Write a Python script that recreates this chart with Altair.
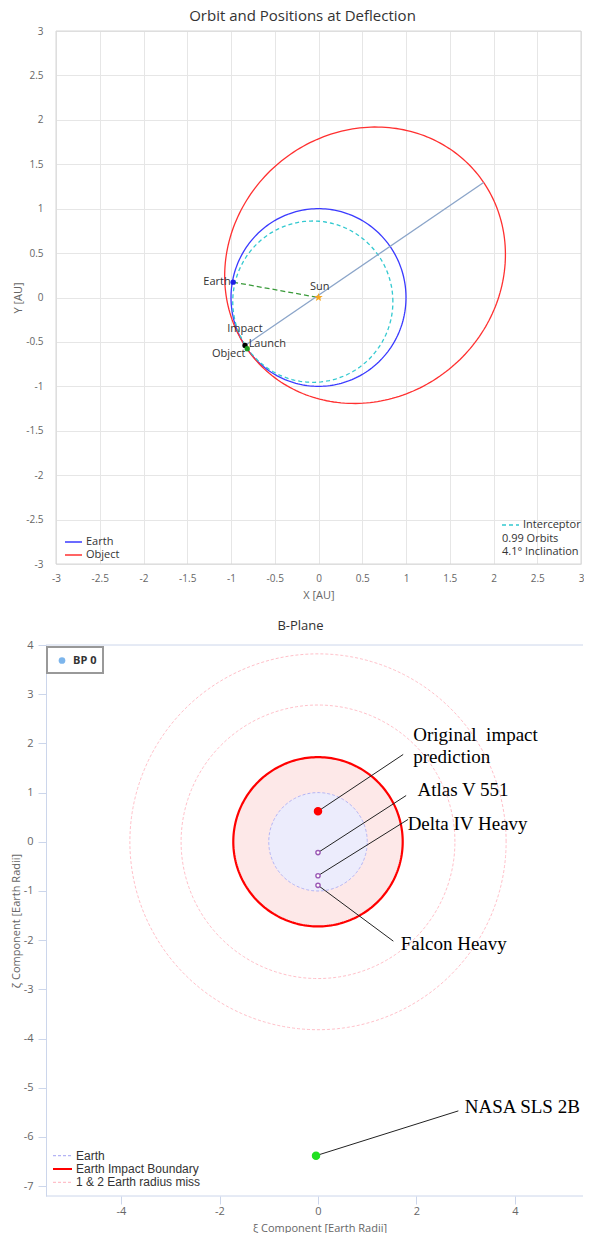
import altair as alt
import numpy as np
import pandas as pd

# ---------------- Orbit chart data (AU) ----------------
ORBIT_NAMES = ["Earth", "Object"]
ORBIT_CX = [0.0, 0.532]
ORBIT_CY = [0.0, 0.363]
ORBIT_A = [1.0, 1.645]
ORBIT_B = [1.0, 1.513]
ORBIT_ROT = [0.0, 34.3]

INTERCEPTOR_CX = -0.065
INTERCEPTOR_CY = -0.047
INTERCEPTOR_A = 0.915
INTERCEPTOR_B = 0.908

BODY_NAMES = ["Earth", "Sun", "Launch", "Object"]
BODY_X = [-0.976, 0.0, -0.84, -0.815]
BODY_Y = [0.173, 0.0, -0.54, -0.577]

LABEL_TEXT = ["Earth", "Sun", "Impact", "Launch", "Object"]
LABEL_X = [-1.16, 0.015, -0.841, -0.585, -1.026]
LABEL_Y = [0.178, 0.118, -0.354, -0.52, -0.632]

EARTH_SUN_X = [-0.976, 0.0]
EARTH_SUN_Y = [0.173, 0.0]
APSIDES_X = [-0.84, 1.887]
APSIDES_Y = [-0.54, 1.295]

TOP_LEGEND = ["Earth", "Object"]
INFO_TEXT = ["Interceptor", "0.99 Orbits", "4.1\u00b0 Inclination"]

# ---------------- B-plane data (Earth radii) ----------------
EARTH_RADIUS = 1.0
IMPACT_RADIUS = 1.72
MISS_RADII = [2.78, 3.82]
BP_LEGEND = ["Earth", "Earth Impact Boundary", "1 & 2 Earth radius miss"]

BP_NAMES = ["Original impact prediction", "Atlas V 551", "Delta IV Heavy", "Falcon Heavy", "NASA SLS 2B"]
BP_XI = [0.0, 0.0, 0.0, 0.0, -0.04]
BP_ZETA = [0.62, -0.22, -0.69, -0.885, -6.38]

CALLOUT_END_X = [1.73, 1.79, 1.83, 1.53, 2.85]
CALLOUT_END_Y = [1.775, 0.94, 0.455, -2.02, -5.47]

CALLOUT_TEXT = ["Original\u00a0 impact", "prediction", "Atlas V 551", "Delta IV Heavy", "Falcon Heavy", "NASA SLS 2B"]
CALLOUT_TEXT_X = [1.935, 1.935, 2.02, 1.82, 1.68, 2.98]
CALLOUT_TEXT_Y = [2.18, 1.72, 1.06, 0.365, -2.08, -5.40]

STAR_PATH = ("M0,-1L0.24,-0.33L0.95,-0.31L0.39,0.12L0.59,0.81L0,0.4L-0.59,0.81L-0.39,0.12"
             "L-0.95,-0.31L-0.24,-0.33Z")


def ellipse_df(cx, cy, a, b, rot_deg, n=241, ring=0):
    t = np.linspace(0.0, 2.0 * np.pi, n)
    r = np.deg2rad(rot_deg)
    xs = cx + a * np.cos(t) * np.cos(r) - b * np.sin(t) * np.sin(r)
    ys = cy + a * np.cos(t) * np.sin(r) + b * np.sin(t) * np.cos(r)
    return pd.DataFrame({"x": xs, "y": ys, "k": np.arange(n), "ring": ring})


def disk_df(r, n=181):
    t = np.linspace(0.0, np.pi, n)
    return pd.DataFrame({"x": r * np.cos(t), "y": r * np.sin(t), "y2": -r * np.sin(t)})


ONE = pd.DataFrame({"a": [0]})
FONT = "Open Sans"
GREY = "#666666"
DARK = "#333333"
PLAIN = "'' + datum.value"

# ======================= TOP CHART =======================
TW, TH = 525, 533
half_ticks = [v * 0.5 for v in range(-6, 7)]
top_scale = alt.Scale(domain=[-3, 3], nice=False, zero=False)

XT = alt.X("x:Q", scale=top_scale, axis=alt.Axis(
    values=half_ticks, title="X [AU]", grid=True, gridColor="#e6e6e6", domain=False, ticks=False,
    labelFlush=False, labelExpr=PLAIN, labelFont=FONT, labelFontSize=10, labelColor=GREY, labelPadding=9,
    titleFont=FONT, titleFontSize=11, titleFontWeight="normal", titleColor=GREY, titlePadding=6))
YT = alt.Y("y:Q", scale=top_scale, axis=alt.Axis(
    values=half_ticks, title="Y [AU]", grid=True, gridColor="#e6e6e6", domain=False, ticks=False,
    labelFlush=False, labelExpr=PLAIN, labelFont=FONT, labelFontSize=10, labelColor=GREY, labelPadding=13,
    titleFont=FONT, titleFontSize=11, titleFontWeight="normal", titleColor=GREY, titlePadding=2))

top_layers = []
# plot border
top_layers.append(alt.Chart(ONE).mark_rect(fill="transparent", stroke="#d6d6d6", strokeWidth=1).encode(
    x=alt.value(0), x2=alt.value(TW), y=alt.value(0), y2=alt.value(TH)))

orbit_colors = ["#3a3aff", "#ff3030"]
for i in range(len(ORBIT_NAMES)):
    d = ellipse_df(ORBIT_CX[i], ORBIT_CY[i], ORBIT_A[i], ORBIT_B[i], ORBIT_ROT[i])
    top_layers.append(alt.Chart(d).mark_line(strokeWidth=1.3, color=orbit_colors[i]).encode(
        x=XT, y=YT, order="k:Q"))

d_int = ellipse_df(INTERCEPTOR_CX, INTERCEPTOR_CY, INTERCEPTOR_A, INTERCEPTOR_B, 0.0)
top_layers.append(alt.Chart(d_int).mark_line(strokeWidth=1.3, color="#33c9d0", strokeDash=[4, 3]).encode(
    x=XT, y=YT, order="k:Q"))

top_layers.append(alt.Chart(pd.DataFrame({"x": EARTH_SUN_X, "y": EARTH_SUN_Y})).mark_line(
    color="#3a9a3a", strokeDash=[5, 3], strokeWidth=1.3).encode(x=XT, y=YT))
top_layers.append(alt.Chart(pd.DataFrame({"x": APSIDES_X, "y": APSIDES_Y})).mark_line(
    color="#8ba5c9", strokeWidth=1.3).encode(x=XT, y=YT))

body_style = [("#1f1fe6", "circle", 28), ("#f5a623", STAR_PATH, 80), ("#000000", "circle", 28),
              ("#1f9a1f", "circle", 28)]
for i, (col, shp, sz) in enumerate(body_style):
    d = pd.DataFrame({"x": [BODY_X[i]], "y": [BODY_Y[i]]})
    top_layers.append(alt.Chart(d).mark_point(filled=True, opacity=1, color=col, shape=shp, size=sz).encode(
        x=XT, y=YT))

top_layers.append(alt.Chart(pd.DataFrame({"t": LABEL_TEXT, "x": LABEL_X, "y": LABEL_Y})).mark_text(
    font=FONT, fontSize=11, color=DARK, baseline="middle", align="center").encode(
    x=XT, y=YT, text="t:N"))

# legends drawn as plain marks (pixel positions inside the plot area)
for i, (name, col) in enumerate(zip(TOP_LEGEND, orbit_colors)):
    yy = 511 + 13 * i
    top_layers.append(alt.Chart(ONE).mark_rule(color=col, strokeWidth=1.5).encode(
        x=alt.value(9), x2=alt.value(26), y=alt.value(yy)))
    top_layers.append(alt.Chart(ONE).mark_text(font=FONT, fontSize=11, color=DARK, align="left",
                                               baseline="middle", text=name).encode(
        x=alt.value(30), y=alt.value(yy)))
top_layers.append(alt.Chart(ONE).mark_rule(color="#33c9d0", strokeWidth=1.5, strokeDash=[4, 3]).encode(
    x=alt.value(446), x2=alt.value(463), y=alt.value(494)))
for i, txt in enumerate(INFO_TEXT):
    top_layers.append(alt.Chart(ONE).mark_text(font=FONT, fontSize=11, color=DARK, align="left",
                                               baseline="middle", text=txt).encode(
        x=alt.value(467 if i == 0 else 446), y=alt.value(494 + 13.5 * i)))
# invisible anchor that fixes the left extent of the panel
top_layers.append(alt.Chart(ONE).mark_point(opacity=0, size=1).encode(x=alt.value(-47.5), y=alt.value(0)))

top = alt.layer(*top_layers).properties(
    width=TW, height=TH,
    title=alt.TitleParams("Orbit and Positions at Deflection", fontSize=15, font=FONT, color=DARK,
                          fontWeight="normal", anchor="middle", offset=2, dx=-16))

# ======================= B-PLANE CHART =======================
BW, BH = 527, 551
bx_scale = alt.Scale(domain=[-5.32, 5.381], nice=False, zero=False)
by_scale = alt.Scale(domain=[-7.2, 4], nice=False, zero=False)
AX_COL = "#ccd6eb"
SHIFT = -10  # the B-plane axis lines sit 10 px left of the shared plot edge

XB = alt.X("x:Q", scale=bx_scale, axis=alt.Axis(
    values=[-4, -2, 0, 2, 4], title="\u03be Component [Earth Radii]", grid=False, domain=False,
    tickColor=AX_COL, tickSize=8, labelFlush=False, labelExpr=PLAIN,
    labelFont=FONT, labelFontSize=11, labelColor=GREY, labelPadding=1,
    titleFont=FONT, titleFontSize=11, titleFontWeight="normal", titleColor=GREY, titlePadding=6))
YB = alt.Y("y:Q", scale=by_scale, axis=alt.Axis(
    values=list(range(-7, 5)), title="\u03b6 Component [Earth Radii]", grid=False, offset=10,
    domainColor=AX_COL, tickColor=AX_COL, tickSize=8, labelFlush=False, labelExpr=PLAIN,
    labelFont=FONT, labelFontSize=11, labelColor=GREY, labelPadding=5,
    titleFont=FONT, titleFontSize=11, titleFontWeight="normal", titleColor=GREY, titlePadding=2))

bl = []
bl.append(alt.Chart(disk_df(IMPACT_RADIUS)).mark_area(color="#fde8e8", opacity=1).encode(x=XB, y=YB, y2="y2:Q"))
bl.append(alt.Chart(disk_df(EARTH_RADIUS)).mark_area(color="#ececfc", opacity=1).encode(x=XB, y=YB, y2="y2:Q"))

miss = pd.concat([ellipse_df(0, 0, r, r, 0, ring=j) for j, r in enumerate(MISS_RADII)])
bl.append(alt.Chart(miss).mark_line(color="#ffc0c9", strokeWidth=1, strokeDash=[3, 2]).encode(
    x=XB, y=YB, detail="ring:N", order="k:Q"))
bl.append(alt.Chart(ellipse_df(0, 0, EARTH_RADIUS, EARTH_RADIUS, 0)).mark_line(
    color="#b4b4f5", strokeWidth=1, strokeDash=[3, 2]).encode(x=XB, y=YB, order="k:Q"))
bl.append(alt.Chart(ellipse_df(0, 0, IMPACT_RADIUS, IMPACT_RADIUS, 0)).mark_line(
    color="#ff0000", strokeWidth=2.2).encode(x=XB, y=YB, order="k:Q"))

call_rows = []
for i, (x0, y0, x1, y1) in enumerate(zip(BP_XI, BP_ZETA, CALLOUT_END_X, CALLOUT_END_Y)):
    call_rows.append({"id": i, "x": x0, "y": y0, "k": 0})
    call_rows.append({"id": i, "x": x1, "y": y1, "k": 1})
bl.append(alt.Chart(pd.DataFrame(call_rows)).mark_line(color="#222222", strokeWidth=1).encode(
    x=XB, y=YB, detail="id:N", order="k:Q"))

pt_style = [("#ff0000", "#ff0000", 50), ("#ffffff", "#9b59b6", 18), ("#ffffff", "#9b59b6", 18),
            ("#ffffff", "#9b59b6", 18), ("#22e022", "#22e022", 50)]
for i, (fc, sc, sz) in enumerate(pt_style):
    d = pd.DataFrame({"x": [BP_XI[i]], "y": [BP_ZETA[i]]})
    bl.append(alt.Chart(d).mark_point(shape="circle", fill=fc, stroke=sc, strokeWidth=1.4, size=sz,
                                      opacity=1, fillOpacity=1).encode(x=XB, y=YB))

bl.append(alt.Chart(pd.DataFrame({"t": CALLOUT_TEXT, "x": CALLOUT_TEXT_X, "y": CALLOUT_TEXT_Y})).mark_text(
    font="Liberation Serif", fontSize=19, color="#000000", align="left", baseline="middle").encode(
    x=XB, y=YB, text="t:N"))

# top border line and bottom axis line of the plot frame
bl.append(alt.Chart(ONE).mark_rule(color=AX_COL, strokeWidth=1).encode(
    x=alt.value(SHIFT), x2=alt.value(BW), y=alt.value(0)))
bl.append(alt.Chart(ONE).mark_rule(color=AX_COL, strokeWidth=1).encode(
    x=alt.value(SHIFT), x2=alt.value(BW), y=alt.value(BH)))

# "BP 0" legend box (pixel positions inside the plot area)
bl.append(alt.Chart(ONE).mark_rect(fill="#ffffff", stroke="#999999", strokeWidth=2).encode(
    x=alt.value(SHIFT + 1), x2=alt.value(SHIFT + 57), y=alt.value(2), y2=alt.value(28)))
bl.append(alt.Chart(ONE).mark_point(shape="circle", filled=True, color="#7cb5ec", size=45, opacity=1).encode(
    x=alt.value(SHIFT + 16), y=alt.value(15.5)))
bl.append(alt.Chart(ONE).mark_text(font=FONT, fontSize=11, fontWeight="bold", color=DARK, align="left",
                                   baseline="middle", text="BP 0").encode(
    x=alt.value(SHIFT + 27), y=alt.value(15.5)))

# bottom-left legend
leg_style = [("#b4b4f5", 1.2, [3, 2]), ("#ff0000", 2.2, [1, 0]), ("#ffc0c9", 1.2, [3, 2])]
for i, (name, (col, sw, dash)) in enumerate(zip(BP_LEGEND, leg_style)):
    yy = 510.6 + 13.4 * i
    bl.append(alt.Chart(ONE).mark_rule(color=col, strokeWidth=sw, strokeDash=dash).encode(
        x=alt.value(SHIFT + 7), x2=alt.value(SHIFT + 26), y=alt.value(yy)))
    bl.append(alt.Chart(ONE).mark_text(font="Liberation Sans", fontSize=12, color=DARK, align="left",
                                       baseline="middle", text=name).encode(
        x=alt.value(SHIFT + 30), y=alt.value(yy)))

bottom = alt.layer(*bl).properties(
    width=BW, height=BH,
    title=alt.TitleParams("B-Plane", fontSize=13, font=FONT, color=DARK,
                          fontWeight="normal", anchor="middle", offset=6, dx=-19))

chart = alt.concat(top, bottom, columns=1, spacing=20, align="none").properties(
    padding={"left": 0, "top": 1, "right": 0, "bottom": 0}).configure_view(strokeWidth=0)

chart.save("out.html", embed_options={"renderer": "svg", "actions": False})
